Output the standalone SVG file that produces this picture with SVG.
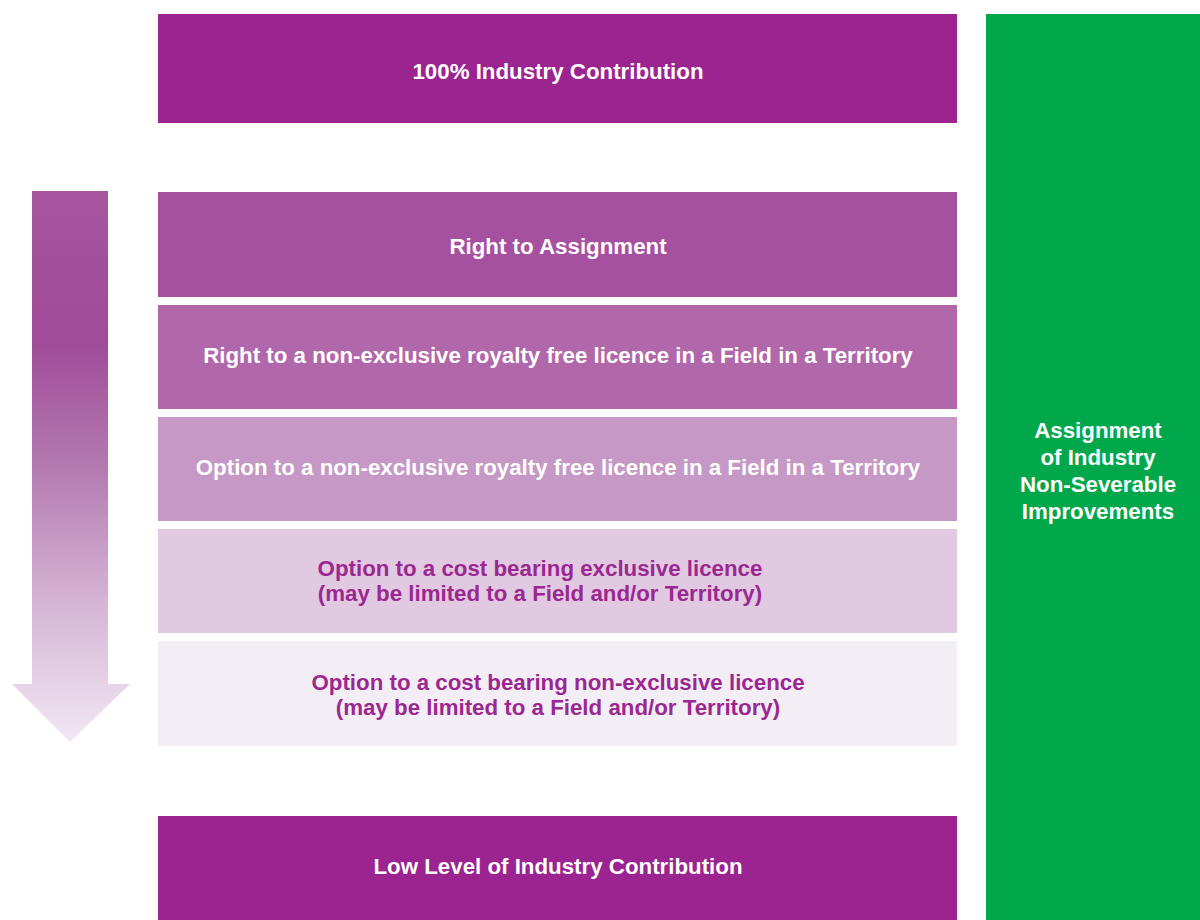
<svg xmlns="http://www.w3.org/2000/svg" width="1200" height="920" viewBox="0 0 1200 920">
<style>
.t{font-family:"Liberation Sans",Arial,sans-serif;font-weight:bold;font-size:22.3px;text-anchor:middle;dominant-baseline:central}
.w{fill:#ffffff}
.p{fill:#9B2790}
</style>
<defs>
<linearGradient id="ag" x1="0" y1="0" x2="0" y2="1">
<stop offset="0" stop-color="#A7559F"/>
<stop offset="0.27" stop-color="#9F4B99"/>
<stop offset="0.5" stop-color="#B47AB0"/>
<stop offset="0.75" stop-color="#D6B5D6"/>
<stop offset="1" stop-color="#F1E8F3"/>
</linearGradient>
</defs>
<rect width="1200" height="920" fill="#ffffff"/>
<g id="green">
<rect x="986" y="14" width="214" height="906" fill="#00A84B"/>
<text class="t w" x="1098" y="430">Assignment</text>
<text class="t w" x="1098" y="457">of Industry</text>
<text class="t w" x="1098" y="484">Non-Severable</text>
<text class="t w" x="1098" y="511">Improvements</text>
</g>
<g id="arrow">
<polygon points="32,191 108,191 108,684 130,684 70,742 12,684 32,684" fill="url(#ag)"/>
</g>
<g id="top">
<rect x="158" y="14" width="799" height="109" fill="#9C2490"/>
<text class="t w" x="558" y="71">100% Industry Contribution</text>
</g>
<g id="r1">
<rect x="158" y="192" width="799" height="105" fill="#A6519F"/>
<text class="t w" x="558" y="246">Right to Assignment</text>
</g>
<g id="r2">
<rect x="158" y="305" width="799" height="104" fill="#B068AA"/>
<text class="t w" x="558" y="355">Right to a non-exclusive royalty free licence in a Field in a Territory</text>
</g>
<g id="r3">
<rect x="158" y="417" width="799" height="104" fill="#C598C5"/>
<text class="t w" x="558" y="467">Option to a non-exclusive royalty free licence in a Field in a Territory</text>
</g>
<g id="r4">
<rect x="158" y="529" width="799" height="104" fill="#E1C9E1"/>
<text class="t p" x="540" y="568">Option to a cost bearing exclusive licence</text>
<text class="t p" x="540" y="593">(may be limited to a Field and/or Territory)</text>
</g>
<g id="r5">
<rect x="158" y="641" width="799" height="105" fill="#F3EDF5"/>
<text class="t p" x="558" y="682">Option to a cost bearing non-exclusive licence</text>
<text class="t p" x="558" y="707">(may be limited to a Field and/or Territory)</text>
</g>
<g id="bottom">
<rect x="158" y="816" width="799" height="104" fill="#9C2490"/>
<text class="t w" x="558" y="866">Low Level of Industry Contribution</text>
</g>
<g id="connectors"></g>
</svg>
